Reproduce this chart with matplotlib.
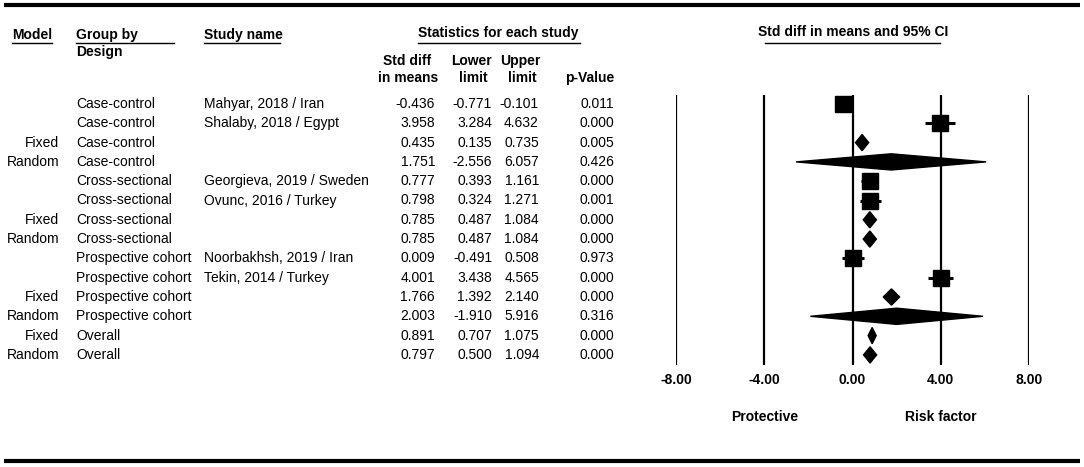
import matplotlib.pyplot as plt
from matplotlib.patches import Polygon
from matplotlib.transforms import blended_transform_factory

plt.rcParams['font.family'] = ['Liberation Sans', 'DejaVu Sans']

# Data
model = ["", "", "Fixed", "Random", "", "", "Fixed", "Random",
         "", "", "Fixed", "Random", "Fixed", "Random"]
group = (["Case-control"] * 4 + ["Cross-sectional"] * 4
         + ["Prospective cohort"] * 4 + ["Overall"] * 2)
study = ["Mahyar, 2018 / Iran", "Shalaby, 2018 / Egypt", "", "",
         "Georgieva, 2019 / Sweden", "Ovunc, 2016 / Turkey", "", "",
         "Noorbakhsh, 2019 / Iran", "Tekin, 2014 / Turkey", "", "", "", ""]
est = [-0.436, 3.958, 0.435, 1.751, 0.777, 0.798, 0.785, 0.785,
       0.009, 4.001, 1.766, 2.003, 0.891, 0.797]
lower = [-0.771, 3.284, 0.135, -2.556, 0.393, 0.324, 0.487, 0.487,
         -0.491, 3.438, 1.392, -1.910, 0.707, 0.500]
upper = [-0.101, 4.632, 0.735, 6.057, 1.161, 1.271, 1.084, 1.084,
         0.508, 4.565, 2.140, 5.916, 1.075, 1.094]
pval = [0.011, 0.000, 0.005, 0.426, 0.000, 0.001, 0.000, 0.000,
        0.973, 0.000, 0.000, 0.316, 0.000, 0.000]
xticks = [-8, -4, 0, 4, 8]

W, H = 1084, 467
fig = plt.figure(figsize=(W / 100, H / 100), dpi=100)

# background axes in pixel units for the table part
bg = fig.add_axes([0, 0, 1, 1])
bg.set_xlim(0, W)
bg.set_ylim(H, 0)
bg.axis('off')

row0, step = 104, 19.3
fs = 10

# thick rules top and bottom
bg.plot([4, 1080], [5, 5], color='black', lw=3, solid_capstyle='butt')
bg.plot([4, 1080], [461, 461], color='black', lw=3, solid_capstyle='butt')

# headers
hb = dict(fontsize=fs, fontweight='bold', va='center')
bg.text(12, 35, "Model", ha='left', **hb)
bg.text(76, 35, "Group by", ha='left', **hb)
bg.text(76, 52, "Design", ha='left', **hb)
bg.text(204, 35, "Study name", ha='left', **hb)
bg.text(498, 33, "Statistics for each study", ha='center', **hb)
bg.text(853, 32, "Std diff in means and 95% CI", ha='center', **hb)
bg.text(407, 61, "Std diff", ha='center', **hb)
bg.text(408, 78, "in means", ha='center', **hb)
bg.text(471, 61, "Lower", ha='center', **hb)
bg.text(473, 78, "limit", ha='center', **hb)
bg.text(520, 61, "Upper", ha='center', **hb)
bg.text(522, 78, "limit", ha='center', **hb)
bg.text(614, 78, "p-Value", ha='right', **hb)

for x0, x1 in [(12, 52), (76, 174), (204, 280), (418, 580), (765, 940)]:
    bg.plot([x0, x1], [43, 43], color='black', lw=1)

# table rows
for i in range(len(est)):
    y = row0 + step * i
    bg.text(59, y, model[i], ha='right', va='center', fontsize=fs)
    bg.text(76, y, group[i], ha='left', va='center', fontsize=fs)
    bg.text(204, y, study[i], ha='left', va='center', fontsize=fs)
    bg.text(435, y, f"{est[i]:.3f}", ha='right', va='center', fontsize=fs)
    bg.text(492, y, f"{lower[i]:.3f}", ha='right', va='center', fontsize=fs)
    bg.text(539, y, f"{upper[i]:.3f}", ha='right', va='center', fontsize=fs)
    bg.text(614, y, f"{pval[i]:.3f}", ha='right', va='center', fontsize=fs)

# forest plot axes
top, bot = 95, 365
ax = fig.add_axes([676 / W, 1 - bot / H, 353 / W, (bot - top) / H])
ax.set_xlim(-8, 8)
ax.set_ylim((bot - row0) / step, (top - row0) / step)
for s in ax.spines.values():
    s.set_visible(False)
ax.set_yticks([])
ax.set_xticks(xticks)
ax.set_xticklabels([f"{t:.2f}" for t in xticks])
ax.tick_params(axis='x', length=0, pad=6, labelsize=fs)
for lbl in ax.get_xticklabels():
    lbl.set_fontweight('bold')
ax.vlines(xticks, *ax.get_ylim(), color='black', lw=1.6)

for i in range(len(est)):
    if study[i]:
        ax.hlines(i, lower[i], upper[i], color='black', lw=2.2, zorder=3)
        ax.plot(est[i], i, 's', color='black', ms=11.5, zorder=4)
    else:
        h = 0.42
        ax.add_patch(Polygon([(lower[i], i), (est[i], i - h), (upper[i], i),
                              (est[i], i + h)], closed=True,
                             color='black', zorder=4))

tr = blended_transform_factory(ax.transData, ax.transAxes)
ax.text(-4, -0.193, "Protective", transform=tr, ha='center', va='center',
        fontsize=fs, fontweight='bold')
ax.text(4, -0.193, "Risk factor", transform=tr, ha='center', va='center',
        fontsize=fs, fontweight='bold')

fig.savefig("out.png", dpi=100)
